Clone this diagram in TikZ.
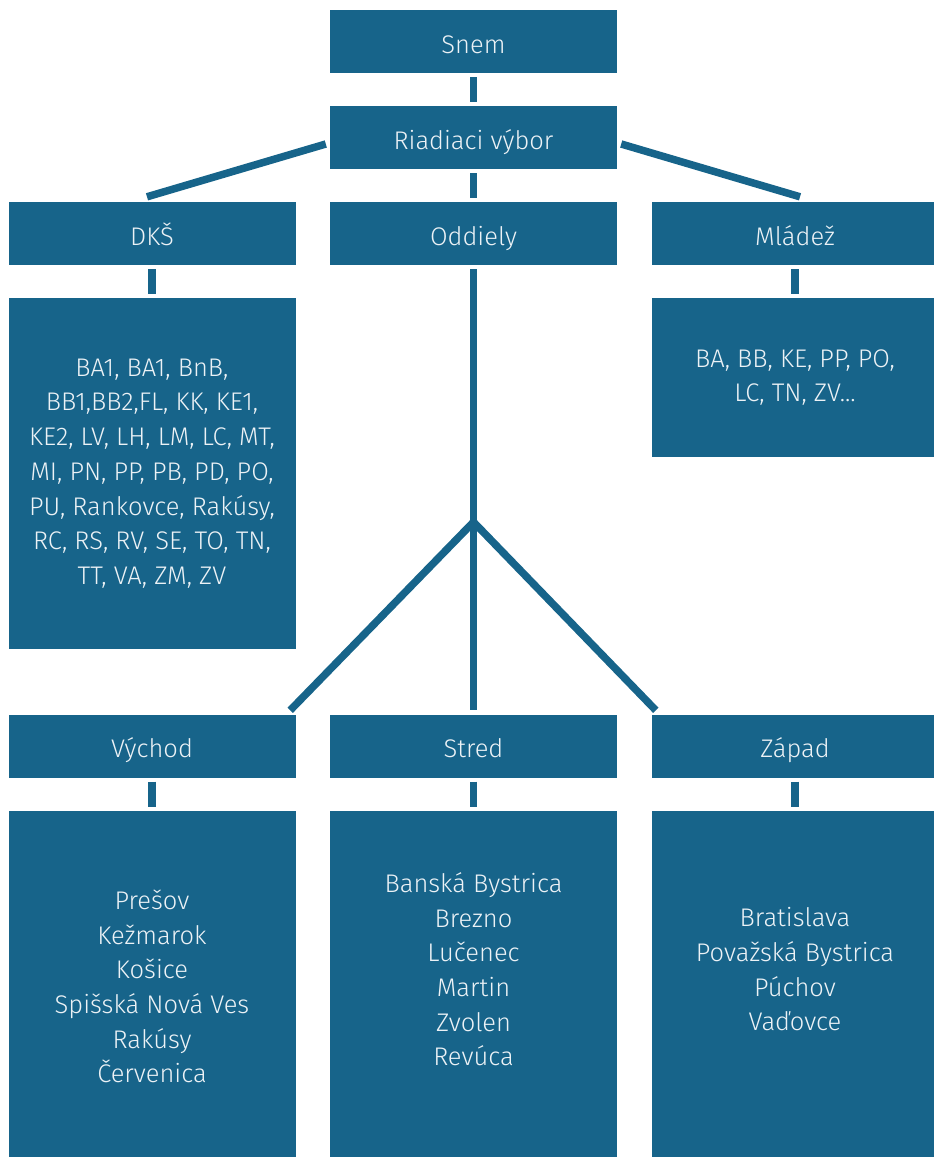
\documentclass[tikz,border=0pt]{standalone}
\usepackage{fontspec}
\setmainfont{Fira Sans}[UprightFont=* Light]
\usetikzlibrary{positioning}
\definecolor{orgblue}{RGB}{23,100,138}
\definecolor{orgtext}{RGB}{236,242,246}

\begin{document}
\begin{tikzpicture}[
    x=1pt, y=1pt,
    on grid,
    panel/.style = {rectangle, fill=orgblue, text=orgtext, minimum width=287pt, minimum height=63pt,
                    font=\fontsize{25.5}{34.7}\selectfont},
    box/.style   = {panel, text height=25pt, text depth=1.4pt},
    list/.style  = {panel, align=center, inner sep=0pt},
    link/.style  = {draw=orgblue, line width=7.5pt, shorten <=4pt, shorten >=4pt},
]

    \useasboundingbox (0,0) rectangle (934,-1157);

    \node[box]                              (snem)      at (473.5,-41.5) {Snem};
    \node[box, below=96pt of snem]          (riadiaci)  {Riadiaci výbor};
    \node[box, below=96pt of riadiaci]      (oddiely)   {Oddiely};
    \node[box, left=321.5pt of oddiely]     (dks)       {DKŠ};
    \node[box, right=321.5pt of oddiely]    (mladez)    {Mládež};

    \node[list, minimum height=351pt, below=240pt of dks] (dkslist)
        {BA1, BA1, BnB,\\ BB1,BB2,FL, KK, KE1,\\ KE2, LV, LH, LM, LC, MT,\\ MI, PN, PP, PB, PD, PO,\\
         PU, Rankovce, Rakúsy,\\ RC, RS, RV, SE, TO, TN,\\ TT, VA, ZM, ZV};
    \node[list, minimum height=159pt, below=144pt of mladez] (mladezlist)
        {BA, BB, KE, PP, PO,\\ LC, TN, ZV...};

    \coordinate[below=288.5pt of oddiely]   (split);
    \node[box, below=512.5pt of oddiely]    (stred)     {Stred};
    \node[box, left=321.5pt of stred]       (vychod)    {Východ};
    \node[box, right=321.5pt of stred]      (zapad)     {Západ};

    \node[list, minimum height=351pt, below=240.5pt of vychod] (vychodlist)
        {Prešov\\ Kežmarok\\ Košice\\ Spišská Nová Ves\\ Rakúsy\\ Červenica};
    \node[list, minimum height=351pt, below=240.5pt of stred]  (stredlist)
        {Banská Bystrica\\ Brezno\\ Lučenec\\ Martin\\ Zvolen\\ Revúca\\ ~};
    \node[list, minimum height=351pt, below=240.5pt of zapad]  (zapadlist)
        {Bratislava\\ Považská Bystrica\\ Púchov\\ Vaďovce\\ ~};

    \draw[link] (snem)     -- (riadiaci);
    \draw[link] (riadiaci) -- (oddiely);
    \draw[link] (dks)      -- (dkslist);
    \draw[link] (mladez)   -- (mladezlist);
    \draw[link] (oddiely)  -- (stred);
    \draw[link] (vychod)   -- (vychodlist);
    \draw[link] (stred)    -- (stredlist);
    \draw[link] (zapad)    -- (zapadlist);

    \draw[link, shorten <=0pt, shorten >=0pt]
        ([xshift=-4pt, yshift=-6.5pt]riadiaci.west) -- ([xshift=-5pt, yshift=5pt]dks.north);
    \draw[link, shorten <=0pt, shorten >=0pt]
        ([xshift=4pt, yshift=-6.5pt]riadiaci.east)  -- ([xshift=5pt, yshift=5pt]mladez.north);
    \draw[link, shorten <=0pt, shorten >=0pt, miter limit=4]
        ([xshift=-5.5pt, yshift=4pt]vychod.north east) -- (split) -- ([xshift=4.5pt, yshift=4pt]zapad.north west);
\end{tikzpicture}
\end{document}
